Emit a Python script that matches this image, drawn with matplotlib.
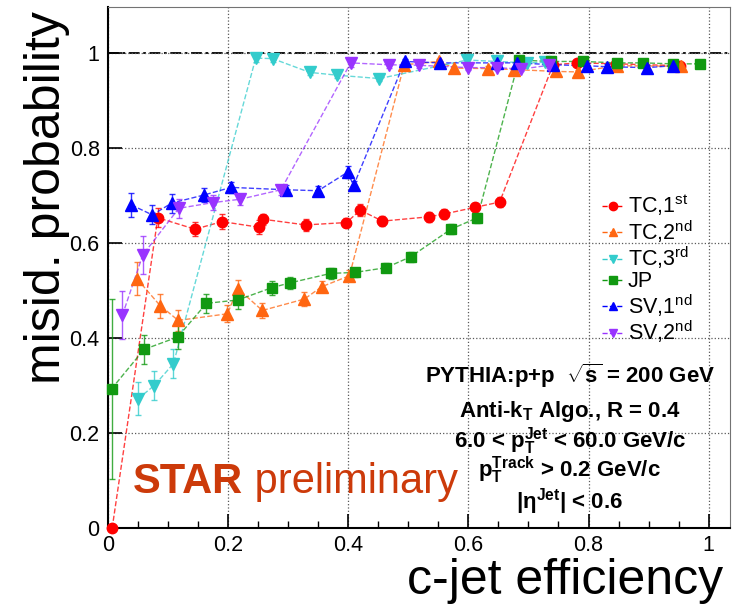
"""
STAR preliminary: misidentification probability vs c-jet efficiency
for several tagging algorithms (PYTHIA p+p, sqrt(s) = 200 GeV).
"""

import matplotlib
matplotlib.use("Agg")
import matplotlib.pyplot as plt
from matplotlib.lines import Line2D
from matplotlib.ticker import MultipleLocator

plt.rcParams['font.family'] = ['Liberation Sans', 'DejaVu Sans']
plt.rcParams['mathtext.fontset'] = 'custom'
plt.rcParams['mathtext.rm'] = 'Liberation Sans'
plt.rcParams['mathtext.it'] = 'Liberation Sans'
plt.rcParams['mathtext.bf'] = 'Liberation Sans:bold'

# ---- data ----
tc1_x = [0.007, 0.083, 0.145, 0.190, 0.252, 0.258, 0.329, 0.397, 0.420, 0.457,
         0.534, 0.560, 0.611, 0.652, 0.741, 0.781, 0.846, 0.952]
tc1_y = [0.000, 0.653, 0.629, 0.645, 0.633, 0.650, 0.638, 0.643, 0.669, 0.646,
         0.655, 0.661, 0.675, 0.686, 0.975, 0.979, 0.977, 0.973]
tc1_err = [0.005, 0.02, 0.015, 0.015, 0.015, 0.012, 0.012, 0.01, 0.012, 0.01,
           0.01, 0.01, 0.01, 0.01, 0.005, 0.005, 0.005, 0.005]

tc2_x = [0.048, 0.087, 0.117, 0.199, 0.216, 0.257, 0.327, 0.356, 0.402, 0.493,
         0.551, 0.576, 0.633, 0.676, 0.746, 0.782, 0.847, 0.954]
tc2_y = [0.525, 0.468, 0.437, 0.451, 0.504, 0.458, 0.482, 0.508, 0.531, 0.975,
         0.982, 0.968, 0.967, 0.965, 0.961, 0.960, 0.973, 0.972]
tc2_err = [0.035, 0.025, 0.022, 0.018, 0.018, 0.015, 0.015, 0.012, 0.012, 0.006,
           0.006, 0.005, 0.005, 0.005, 0.005, 0.005, 0.005, 0.005]

tc3_x = [0.050, 0.077, 0.109, 0.246, 0.274, 0.336, 0.382, 0.452, 0.598, 0.647,
         0.697, 0.727]
tc3_y = [0.272, 0.300, 0.346, 0.989, 0.988, 0.959, 0.953, 0.946, 0.985, 0.982,
         0.979, 0.980]
tc3_err = [0.035, 0.03, 0.03, 0.008, 0.007, 0.006, 0.006, 0.005, 0.005, 0.005,
           0.005, 0.005]

jp_x = [0.006, 0.060, 0.116, 0.164, 0.216, 0.273, 0.303, 0.371, 0.411, 0.463,
        0.504, 0.571, 0.615, 0.684, 0.737, 0.791, 0.848, 0.891, 0.940, 0.985]
jp_y = [0.293, 0.376, 0.402, 0.473, 0.480, 0.506, 0.516, 0.536, 0.538, 0.548,
        0.571, 0.629, 0.653, 0.985, 0.982, 0.982, 0.979, 0.979, 0.977, 0.977]
jp_err = [0.19, 0.03, 0.025, 0.02, 0.018, 0.015, 0.012, 0.012, 0.01, 0.01,
          0.01, 0.01, 0.01, 0.005, 0.005, 0.005, 0.005, 0.005, 0.005, 0.005]

sv1_x = [0.039, 0.074, 0.106, 0.160, 0.205, 0.296, 0.350, 0.399, 0.409, 0.494,
         0.552, 0.647, 0.681, 0.741, 0.797, 0.830, 0.897, 0.941]
sv1_y = [0.680, 0.659, 0.684, 0.701, 0.717, 0.712, 0.710, 0.749, 0.721, 0.982,
         0.979, 0.979, 0.979, 0.975, 0.973, 0.971, 0.969, 0.973]
sv1_err = [0.025, 0.02, 0.02, 0.015, 0.012, 0.01, 0.01, 0.012, 0.01, 0.006,
           0.005, 0.005, 0.005, 0.005, 0.005, 0.005, 0.005, 0.005]

sv2_x = [0.024, 0.058, 0.118, 0.175, 0.220, 0.288, 0.404, 0.468, 0.517, 0.600,
         0.647, 0.688, 0.735]
sv2_y = [0.448, 0.575, 0.673, 0.685, 0.692, 0.712, 0.979, 0.975, 0.974, 0.969,
         0.969, 0.966, 0.974]
sv2_err = [0.05, 0.04, 0.02, 0.015, 0.012, 0.01, 0.008, 0.006, 0.005, 0.005,
           0.005, 0.005, 0.005]

series = [
    (r'TC,1$^{\rm st}$', tc1_x, tc1_y, tc1_err, '#ff0000', 'o', 7.5),
    (r'TC,2$^{\rm nd}$', tc2_x, tc2_y, tc2_err, '#ff6611', '^', 8.5),
    (r'TC,3$^{\rm rd}$', tc3_x, tc3_y, tc3_err, '#33cccc', 'v', 8.5),
    ('JP', jp_x, jp_y, jp_err, '#119911', 's', 7.0),
    (r'SV,1$^{\rm nd}$', sv1_x, sv1_y, sv1_err, '#0000ff', '^', 8.5),
    (r'SV,2$^{\rm nd}$', sv2_x, sv2_y, sv2_err, '#9933ff', 'v', 8.5),
]

fig = plt.figure(figsize=(7.41, 6.07), dpi=100)
ax = fig.add_axes([0.1457, 0.130, 0.839, 0.858])

# grid + reference line at 1
ax.grid(True, which='major', ls=':', color='0.35', lw=0.9)
ax.axhline(1.0, color='black', lw=1.3, dashes=(6, 2, 1.5, 2), zorder=1)

handles = []
for label, xs, ys, err, color, marker, ms in series:
    ax.plot(xs, ys, ls='--', lw=1.0, color=color, alpha=0.75, zorder=2)
    ax.errorbar(xs, ys, yerr=err, fmt='none', ecolor=color, elinewidth=1.0,
                capsize=2.5, alpha=0.8, zorder=2)
    ax.plot(xs, ys, ls='none', marker=marker, ms=ms, color=color,
            mec=color, zorder=3, clip_on=False)
    handles.append(Line2D([], [], ls='--', lw=1.0, color=color, marker=marker,
                          ms=6, label=label))

ax.legend(handles=handles, loc='upper left', bbox_to_anchor=(0.795, 0.645),
          frameon=False, fontsize=15.5, handlelength=1.0, handletextpad=0.2,
          labelspacing=0.0, borderpad=0, borderaxespad=0)

# axes, ticks, frame
ax.set_xlim(0, 1.035)
ax.set_ylim(0, 1.096)
ax.xaxis.set_minor_locator(MultipleLocator(0.05))
ax.set_xticks([0, 0.2, 0.4, 0.6, 0.8, 1.0])
ax.set_xticklabels(['0', '0.2', '0.4', '0.6', '0.8', '1'])
ax.set_yticks([0, 0.2, 0.4, 0.6, 0.8, 1.0])
ax.set_yticklabels(['0', '0.2', '0.4', '0.6', '0.8', '1'])
ax.tick_params(which='major', direction='in', length=10, width=1.2,
               labelsize=15.5, top=False, right=False, pad=5)
ax.tick_params(axis='y', which='major', pad=6)
ax.tick_params(which='minor', direction='in', length=5, width=1.0,
               top=False, right=False)
for side in ('left', 'bottom'):
    ax.spines[side].set_linewidth(1.5)
for side in ('top', 'right'):
    ax.spines[side].set_linewidth(0.8)
    ax.spines[side].set_color('0.45')

ax.set_xlabel('c-jet efficiency', fontsize=36, ha='right', va='top')
ax.xaxis.set_label_coords(0.990, -0.057)
ax.set_ylabel('misid. probability', fontsize=36)
ax.yaxis.label.set_rotation_mode('default')
ax.yaxis.label.set_ha('center')
ax.yaxis.label.set_va('top')
ax.yaxis.set_label_coords(-0.098, 0.992)

# annotation block
lines = [
    (r'PYTHIA:p+p  $\sqrt{\mathbf{s}}$ = 200 GeV', 0.278),
    (r'Anti-k$_{\mathbf{T}}$ Algo., R = 0.4', 0.213),
    (r'6.0 < $\mathbf{p}_{\mathbf{T}}^{\mathbf{Jet}}$ < 60.0 GeV/c', 0.155),
    (r'$\mathbf{p}_{\mathbf{T}}^{\mathbf{Track}}$ > 0.2 GeV/c', 0.098),
    (r'|η$^{\mathbf{Jet}}$| < 0.6', 0.038),
]
for txt, yy in lines:
    ax.text(0.743, yy, txt, transform=ax.transAxes, ha='center',
            va='baseline', fontsize=16, fontweight='bold')

star = ax.text(0.040, 0.067, 'STAR', transform=ax.transAxes, fontsize=30,
               fontweight='bold', color='#cc3a0a', va='baseline')
ax.annotate(' preliminary', xy=(1, 0), xycoords=star, fontsize=30,
            color='#cc3a0a', va='bottom')

fig.savefig('out.png', dpi=100)
